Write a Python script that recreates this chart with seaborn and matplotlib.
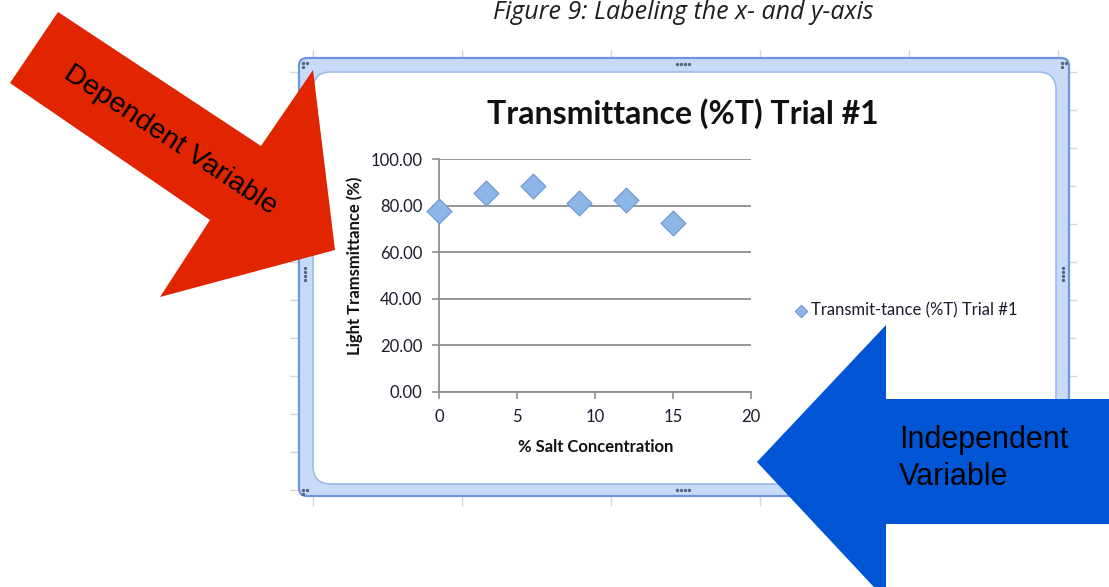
import matplotlib
matplotlib.use("Agg")
import matplotlib.pyplot as plt
from matplotlib.patches import Polygon, FancyBboxPatch
import seaborn as sns

# values
salt_pct = [0, 3, 6, 9, 12, 15]
transmittance = [77.8, 85.2, 88.6, 81.1, 82.5, 72.7]
x_ticks = [0, 5, 10, 15, 20]
y_ticks = [0, 20, 40, 60, 80, 100]
series_name = "Transmit-tance (%T) Trial #1"

sns.set_style("white")
plt.rcParams['font.family'] = ['Lato', 'DejaVu Sans']

W, H = 1109, 587
fig = plt.figure(figsize=(W / 100, H / 100), dpi=100)
fig.patch.set_facecolor('white')

# background layer in pixel coords: spreadsheet grid + chart frame
bg = fig.add_axes([0, 0, 1, 1])
bg.set_xlim(0, W)
bg.set_ylim(H, 0)
bg.axis('off')
bg.set_zorder(0)

for gx in range(313, 1070, 149):
    bg.plot([gx, gx], [50, 505], color='#d6d6d6', lw=1, zorder=0)
for gy in range(72, 500, 38):
    bg.plot([290, 1076], [gy, gy], color='#d6d6d6', lw=1, zorder=0)

bg.add_patch(FancyBboxPatch((299, 58), 770, 438, boxstyle="round,pad=0,rounding_size=8",
                            fc='#c8dbf6', ec='#6f94e0', lw=1.6, zorder=1))
bg.add_patch(FancyBboxPatch((313, 72), 743, 412, boxstyle="round,pad=0,rounding_size=18",
                            fc='white', ec='#9fbbe8', lw=1.2, zorder=1))

# little resize handles on the frame
hx = [677, 681, 685, 689]
bg.scatter(hx, [64] * 4, s=2, color='#55677f', zorder=2)
bg.scatter(hx, [490] * 4, s=2, color='#55677f', zorder=2)
bg.scatter([305] * 4, [268, 272, 276, 280], s=2, color='#55677f', zorder=2)
bg.scatter([1063] * 4, [268, 272, 276, 280], s=2, color='#55677f', zorder=2)
for cx, cy in [(303, 63), (1062, 63), (303, 490), (1062, 490)]:
    bg.scatter([cx, cx + 4, cx], [cy, cy, cy + 4], s=2, color='#55677f', zorder=2)

bg.text(683.5, 19, "Figure 9: Labeling the x- and y-axis", family='Open Sans', style='italic',
        fontsize=18, ha='center', va='baseline', color='#1e1e1e')
bg.text(683, 114, "Transmittance (%T) Trial #1", fontweight='bold', fontsize=23,
        ha='center', va='center', color='#111111')

# the chart itself
ax = fig.add_axes([439 / W, 1 - 392 / H, 312 / W, 233 / H])
ax.set_zorder(1)
ax.patch.set_alpha(0)
sns.scatterplot(x=salt_pct, y=transmittance, marker='D', s=160, color='#8cb5e8',
                edgecolor='#6a97d2', linewidth=0.8, label=series_name, ax=ax, zorder=3)
for coll in ax.collections:
    coll.set_clip_on(False)

ax.set_xlim(0, 20)
ax.set_ylim(0, 100)
ax.set_xticks(x_ticks)
ax.set_yticks(y_ticks)
ax.set_yticklabels([f'{v:.2f}' for v in y_ticks])
ax.yaxis.grid(True, color='#8f8f8f', lw=1.3)
ax.xaxis.grid(False)
sns.despine(ax=ax)
for sp in ['left', 'bottom']:
    ax.spines[sp].set_color('#8f8f8f')
    ax.spines[sp].set_linewidth(1.3)
ax.tick_params(axis='both', direction='out', length=5, width=1.2, color='#8f8f8f',
               labelsize=12, pad=7, labelcolor='#1b1b2e', left=True, bottom=True)

ax.set_xlabel('% Salt Concentration', fontweight='bold', fontsize=12, color='#111111')
ax.set_ylabel('Light Tramsmittance (%)', fontweight='bold', fontsize=12, color='#111111')
ax.xaxis.set_label_coords(0.503, -0.20)
ax.yaxis.set_label_coords(-0.245, 0.541)

ax.legend(loc='center left', bbox_to_anchor=(792.6 / W, 1 - 310 / H), bbox_transform=fig.transFigure,
          frameon=False, handletextpad=0.1, handlelength=1, markerscale=0.5, fontsize=12,
          borderpad=0, borderaxespad=0, labelcolor='#1b1b2e')

# annotation arrows on top
top = fig.add_axes([0, 0, 1, 1])
top.set_xlim(0, W)
top.set_ylim(H, 0)
top.axis('off')
top.set_zorder(2)

red_pts = [(10, 83), (58, 12), (261, 146), (313, 70), (335, 250), (160, 297), (210, 220)]
top.add_patch(Polygon(red_pts, closed=True, fc='#e02500', ec='none'))
top.text(170, 140, "Dependent Variable", rotation=-33.5, rotation_mode='anchor',
         ha='center', va='center', fontsize=20.5, family='Liberation Sans', color='black')

blue_pts = [(757, 462), (886, 325), (886, 399), (1115, 399), (1115, 524), (886, 524), (886, 600)]
top.add_patch(Polygon(blue_pts, closed=True, fc='#0055d5', ec='none'))
top.text(899, 448, "Independent", ha='left', va='baseline', fontsize=22,
         family='Liberation Sans', color='black')
top.text(899, 485, "Variable", ha='left', va='baseline', fontsize=22,
         family='Liberation Sans', color='black')

fig.savefig('out.png', dpi=100)
